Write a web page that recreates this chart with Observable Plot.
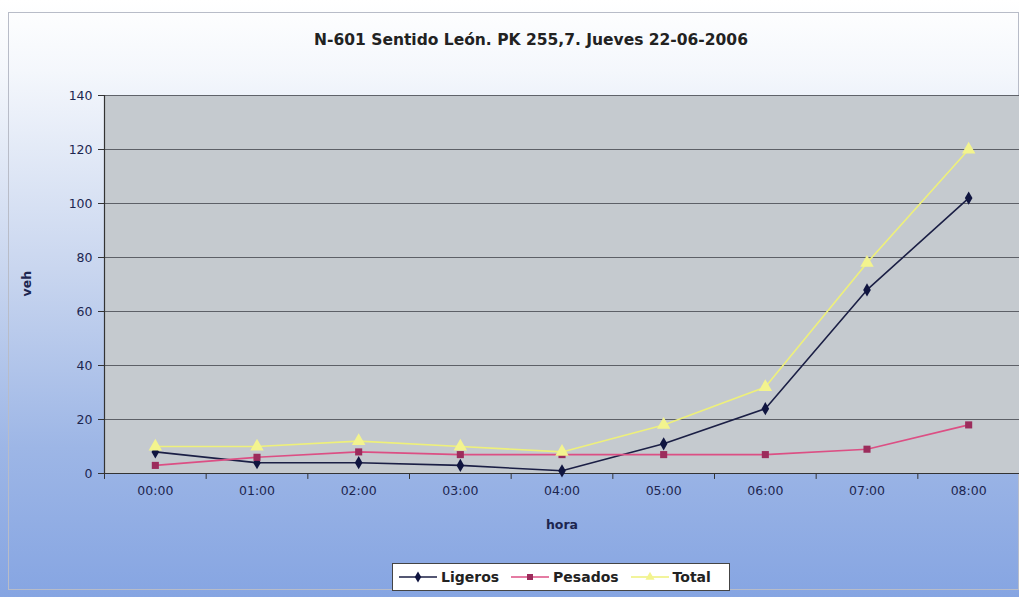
<!DOCTYPE html>
<html>
<head>
<meta charset="utf-8">
<script src="https://cdn.jsdelivr.net/npm/d3@7"></script>
<script src="https://cdn.jsdelivr.net/npm/@observablehq/plot@0.6"></script>
<style>
  html, body { margin: 0; padding: 0; }
  #wrap {
    position: relative; width: 1019px; height: 597px; overflow: hidden;
    background: linear-gradient(to bottom, #ffffff 0%, #f4f7fc 12%, #c9d6ef 45%, #9db6e6 75%, #86a5e2 100%);
    font-family: "DejaVu Sans", Arial, sans-serif;
  }
  #frame { position: absolute; left: 8px; top: 12px; width: 1011px; height: 578px; border: 1px solid #b8bcc8; box-sizing: border-box; }
  #title { position: absolute; left: 0; width: 1062px; top: 31px; text-align: center; font-weight: bold; font-size: 15.5px; color: #222; }
  #chart { position: absolute; left: 0; top: 60px; }
  #legend {
    position: absolute; left: 392px; top: 563px; width: 338px; height: 28px; box-sizing: border-box;
    background: #fff; border: 1px solid #444; display: flex; align-items: center;
    font-weight: bold; font-size: 14px; color: #222; padding-left: 5px;
  }
  #legend span { display: inline-flex; align-items: center; gap: 3px; margin-right: 11px; }
</style>
</head>
<body>
<div id="wrap">
  <div id="frame"></div>
  <div id="title">N-601 Sentido León. PK 255,7. Jueves 22-06-2006</div>
  <div id="chart"></div>
  <div id="legend"></div>
</div>
<script>
const horas = ["00:00","01:00","02:00","03:00","04:00","05:00","06:00","07:00","08:00"];
const ligeros = [8, 4, 4, 3, 1, 11, 24, 68, 102];
const pesados = [3, 6, 8, 7, 7, 7, 7, 9, 18];
const total = [10, 10, 12, 10, 8, 18, 32, 78, 120];
const yTicks = [0, 20, 40, 60, 80, 100, 120, 140];

const seriesDefs = [
  {name: "Ligeros", values: ligeros, line: "#1b1f45", fill: "#101540", symbol: "diamond", r: 4},
  {name: "Pesados", values: pesados, line: "#dc4f84", fill: "#9c2c5c", symbol: "square", r: 4},
  {name: "Total", values: total, line: "#eef07a", fill: "#f3f48e", symbol: "triangle", r: 5}
];

const rows = seriesDefs.flatMap(s => horas.map((h, i) => ({serie: s.name, hora: h, v: s.values[i]})));
const fnt = "DejaVu Sans, Arial, sans-serif";
const half = 915 / 9 / 2;

const marks = [
  Plot.frame({fill: "#c5cacf", stroke: null}),
  Plot.gridY(yTicks, {stroke: "#4a4d55", strokeOpacity: 0.85, strokeWidth: 1}),
  Plot.axisY(yTicks, {tickSize: 6, tickPadding: 6, fontSize: 12.5, fill: "#1d2650", stroke: "#333", label: null}),
  Plot.axisX({tickSize: 0, tickPadding: 13, fontSize: 12.5, fill: "#1d2650", label: null}),
  Plot.ruleX(horas, {x: d => d, dx: -half, y1: 0, y2: -2.2, stroke: "#333"}),
  Plot.ruleY([0], {stroke: "#333", strokeWidth: 1.2}),
  Plot.ruleX([horas[0]], {stroke: "#333", strokeWidth: 1.2, dx: -half}),
  Plot.text(["hora"], {frameAnchor: "bottom", dy: 55, fontWeight: "bold", fontSize: 12.5, fill: "#1d2650"}),
  Plot.text(["veh"], {frameAnchor: "left", dx: -78, dy: 12, rotate: -90, fontWeight: "bold", fontSize: 12.5, fill: "#1d2650"})
];
for (const s of seriesDefs) {
  const d = rows.filter(r => r.serie === s.name);
  marks.push(Plot.line(d, {x: "hora", y: "v", stroke: s.line, strokeWidth: 1.6}));
}
for (const s of seriesDefs) {
  const d = rows.filter(r => r.serie === s.name);
  marks.push(Plot.dot(d, {x: "hora", y: "v", symbol: () => s.symbol, fill: s.fill, r: s.r}));
}

const chart = Plot.plot({
  width: 1019, height: 480,
  marginLeft: 104, marginRight: 0, marginTop: 35, marginBottom: 67,
  style: {background: "transparent", fontFamily: fnt},
  x: {type: "point", domain: horas, padding: 0.5, round: false, axis: null},
  y: {domain: [0, 140], axis: null},
  symbol: {type: "identity"},
  marks
});
document.getElementById("chart").appendChild(chart);

// Legend
const legend = document.getElementById("legend");
const sym = {diamond: d3.symbolDiamond, square: d3.symbolSquare, triangle: d3.symbolTriangle};
for (const s of seriesDefs) {
  const span = document.createElement("span");
  const svg = d3.create("svg").attr("width", 40).attr("height", 14);
  svg.append("line").attr("x1", 1).attr("x2", 39).attr("y1", 7).attr("y2", 7).attr("stroke", s.line).attr("stroke-width", 1.6);
  svg.append("path").attr("d", d3.symbol(sym[s.symbol], 36)()).attr("transform", "translate(20,7)").attr("fill", s.fill);
  span.appendChild(svg.node());
  span.appendChild(document.createTextNode(s.name));
  legend.appendChild(span);
}
</script>
</body>
</html>
